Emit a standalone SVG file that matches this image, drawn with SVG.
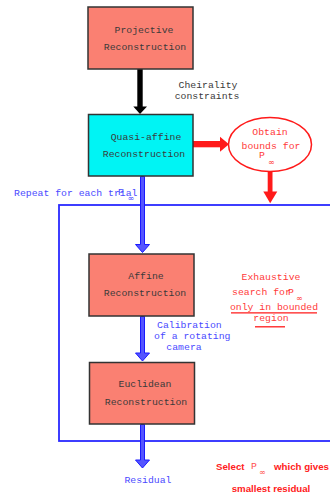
<svg xmlns="http://www.w3.org/2000/svg" width="330" height="494" viewBox="0 0 330 494">
<style>
.box{stroke:#333;stroke-width:1.5}
.salmon{fill:#fa8072}
.cyan{fill:#00f4f4}
.mono{font-family:"Liberation Mono","DejaVu Sans Mono",monospace;font-size:9.8px}
.dark{fill:#3a3a3a}
.blue{fill:#4a4aff}
.red{fill:#ff3a3a}
.bold{font-family:"Liberation Sans",Arial,sans-serif;font-weight:bold;font-size:9.7px;fill:#ff2020}
.sub{font-family:"DejaVu Sans",sans-serif;font-size:8px}
.barrow{fill:#5555ff;stroke:#1a1aff;stroke-width:1}
</style>
<rect width="330" height="494" fill="#fff"/>
<g id="loop">
<rect x="59" y="205" width="290" height="236" fill="none" stroke="#2a2aff" stroke-width="1.8"/>
<text class="mono blue" x="14" y="196">Repeat for each trial</text>
<text class="mono blue" x="118" y="194.5">P</text>
<text class="sub blue" x="127.5" y="200.5">∞</text>
</g>
<g id="connectors">
<rect x="137.3" y="69" width="5.4" height="38" fill="#000"/>
<polygon points="133.3,106.5 147,106.5 140,114" fill="#000"/>
<rect x="193" y="141" width="28" height="6.3" fill="#ff1a1a"/>
<polygon points="220,136.7 229,144.2 220,151.7" fill="#ff1a1a"/>
<rect x="267.7" y="172" width="4.8" height="20" fill="#ff1a1a"/>
<polygon points="263.3,191.5 277.3,191.5 270.2,203.3" fill="#ff1a1a"/>
<polygon class="barrow" points="140.5,176.5 144.5,176.5 144.5,244.5 149.5,244.5 142.5,252.5 135.5,244.5 140.5,244.5"/>
<polygon class="barrow" points="140.5,316.5 144.5,316.5 144.5,353 149.5,353 142.5,361 135.5,353 140.5,353"/>
<polygon class="barrow" points="140.5,424.5 144.5,424.5 144.5,460 149.5,460 142.5,468 135.5,460 140.5,460"/>
<text class="mono dark" x="208" y="87.5" text-anchor="middle">Cheirality</text>
<text class="mono dark" x="207" y="98.5" text-anchor="middle">constraints</text>
<text class="mono blue" x="157" y="328">Calibration</text>
<text class="mono blue" x="154" y="339">of a rotating</text>
<text class="mono blue" x="184" y="349.5" text-anchor="middle">camera</text>
<text class="mono blue" x="148" y="483" text-anchor="middle">Residual</text>
</g>
<g id="projective">
<rect class="box salmon" x="88" y="7" width="105" height="62"/>
<text class="mono dark" x="144" y="33" text-anchor="middle">Projective</text>
<text class="mono dark" x="145" y="50" text-anchor="middle">Reconstruction</text>
</g>
<g id="quasi-affine">
<rect class="box cyan" x="88.5" y="114.5" width="104.5" height="61.5"/>
<text class="mono dark" x="146" y="140" text-anchor="middle">Quasi-affine</text>
<text class="mono dark" x="144" y="157" text-anchor="middle">Reconstruction</text>
</g>
<g id="bounds">
<ellipse cx="270" cy="144.5" rx="41.5" ry="27" fill="#fff" stroke="#ff1a1a" stroke-width="1.5"/>
<text class="mono red" x="270" y="135" text-anchor="middle">Obtain</text>
<text class="mono red" x="271" y="149" text-anchor="middle">bounds for</text>
<text class="mono red" x="259" y="158">P</text>
<text class="sub red" x="268" y="165">∞</text>
</g>
<g id="affine">
<rect class="box salmon" x="89" y="254" width="105" height="62"/>
<text class="mono dark" x="146" y="279" text-anchor="middle">Affine</text>
<text class="mono dark" x="145" y="296" text-anchor="middle">Reconstruction</text>
</g>
<g id="euclidean">
<rect class="box salmon" x="89.5" y="362.5" width="105" height="61.5"/>
<text class="mono dark" x="145" y="387" text-anchor="middle">Euclidean</text>
<text class="mono dark" x="146" y="405" text-anchor="middle">Reconstruction</text>
</g>
<g id="search">
<text class="mono red" x="271" y="280" text-anchor="middle">Exhaustive</text>
<text class="mono red" x="232" y="295">search for</text>
<text class="mono red" x="288" y="294.5">P</text>
<text class="sub red" x="296" y="301">∞</text>
<text class="mono red" x="274" y="310" text-anchor="middle">only in bounded</text>
<line x1="231" y1="312.8" x2="317" y2="312.8" stroke="#ff1a1a" stroke-width="1.3"/>
<text class="mono red" x="271" y="321" text-anchor="middle">region</text>
<line x1="255" y1="326.8" x2="285" y2="326.8" stroke="#ff1a1a" stroke-width="1.3"/>
</g>
<g id="select">
<text class="bold" x="216" y="470">Select</text>
<text class="mono" x="251" y="469" fill="#ff5050" font-size="8px">P</text>
<text class="sub" x="259" y="474.5" fill="#ff5050">∞</text>
<text class="bold" x="274" y="470">which gives</text>
<text class="bold" x="271" y="491.5" text-anchor="middle">smallest residual</text>
</g>
</svg>
